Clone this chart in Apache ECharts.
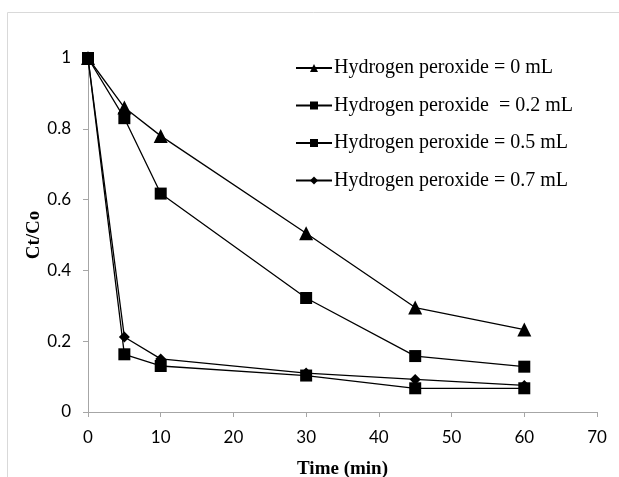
<!DOCTYPE html>
<html>
<head>
<meta charset="utf-8">
<script src="https://cdn.jsdelivr.net/npm/echarts@6/dist/echarts.min.js"></script>
<style>
  html, body { margin: 0; padding: 0; background: #fff; }
  #main { width: 619px; height: 477px; }
</style>
</head>
<body>
<div id="main"></div>
<script>
// time points (min)
var times = [0, 5, 10, 30, 45, 60];
// Ct/Co values
var h2o2_0 = [1, 0.86, 0.78, 0.505, 0.295, 0.233];
var h2o2_02 = [1, 0.83, 0.617, 0.322, 0.158, 0.128];
var h2o2_05 = [1, 0.163, 0.13, 0.103, 0.067, 0.067];
var h2o2_07 = [1, 0.212, 0.15, 0.11, 0.092, 0.075];
var names = [
    'Hydrogen peroxide = 0 mL',
    'Hydrogen peroxide  = 0.2 mL',
    'Hydrogen peroxide = 0.5 mL',
    'Hydrogen peroxide = 0.7 mL'
];

var myChart = echarts.init(document.getElementById('main'));

function pairs(ys) {
    var list = [];
    for (var i = 0; i < times.length; i++) {
        list.push([times[i], ys[i]]);
    }
    return list;
}

function makeSeries(name, ys, symbol, size) {
    return {
        name: name,
        type: 'line',
        data: pairs(ys),
        symbol: symbol,
        symbolSize: size,
        showAllSymbol: true,
        itemStyle: { color: '#000' },
        lineStyle: { color: '#000', width: 1.3 },
        emphasis: { disabled: true },
        animation: false
    };
}

var axisGray = '#a6a6a6';

var option = {
    animation: false,
    graphic: [{
        type: 'rect',
        shape: { x: 7.5, y: 12.5, width: 700, height: 600 },
        style: { fill: 'none', stroke: '#d9d9d9', lineWidth: 1 },
        silent: true
    }],
    grid: { left: 88, right: 22, top: 58, bottom: 65, outerBoundsMode: 'none', containLabel: false },
    legend: {
        left: 290,
        top: 52,
        orient: 'vertical',
        itemWidth: 36,
        itemHeight: 10,
        itemGap: 15.5,
        data: names,
        textStyle: {
            fontFamily: 'Liberation Serif',
            fontSize: 20,
            color: '#000',
            lineHeight: 22,
            padding: [0, 0, 0, -3]
        }
    },
    xAxis: {
        type: 'value',
        min: 0,
        max: 70,
        interval: 10,
        name: 'Time (min)',
        nameLocation: 'middle',
        nameGap: 48,
        nameMoveOverlap: false,
        nameTextStyle: { fontFamily: 'Liberation Serif', fontWeight: 'bold', fontSize: 19, color: '#000' },
        axisLine: { show: true, lineStyle: { color: axisGray, width: 1 } },
        axisTick: { show: true, inside: false, length: 5, lineStyle: { color: axisGray } },
        axisLabel: { fontFamily: 'Lato', fontSize: 17, color: '#000', margin: 17 },
        splitLine: { show: false }
    },
    yAxis: {
        type: 'value',
        min: 0,
        max: 1,
        interval: 0.2,
        name: 'Ct/Co',
        nameLocation: 'middle',
        nameGap: 44,
        nameMoveOverlap: false,
        nameTextStyle: { fontFamily: 'Liberation Serif', fontWeight: 'bold', fontSize: 19, color: '#000' },
        axisLine: { show: true, lineStyle: { color: axisGray, width: 1 } },
        axisTick: { show: true, inside: false, length: 5, lineStyle: { color: axisGray } },
        axisLabel: { fontFamily: 'Lato', fontSize: 17, color: '#000', margin: 17 },
        splitLine: { show: false }
    },
    series: [
        makeSeries(names[0], h2o2_0, 'triangle', 14),
        makeSeries(names[1], h2o2_02, 'rect', 12),
        makeSeries(names[2], h2o2_05, 'rect', 12),
        makeSeries(names[3], h2o2_07, 'diamond', 11)
    ]
};

myChart.setOption(option);
</script>
</body>
</html>
